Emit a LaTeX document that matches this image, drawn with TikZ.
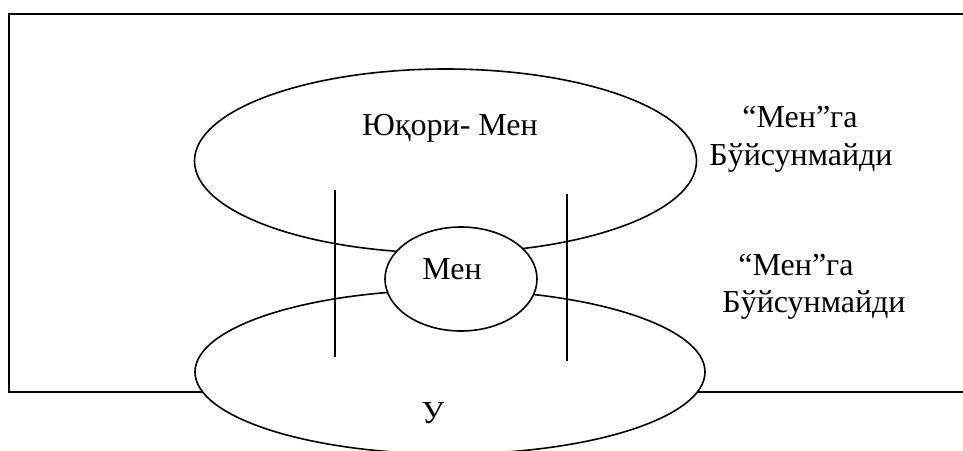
\documentclass[tikz,border=0pt]{standalone}
\usepackage{fontspec}
\setmainfont{Liberation Serif}
\usetikzlibrary{shapes.geometric}
\begin{document}
\begin{tikzpicture}[x=1pt,y=-1pt,
  shape line/.style={line width=1.6pt},
  oval/.style={ellipse,draw,shape line,fill=white,inner sep=0pt},
  lbl/.style={anchor=base,inner sep=0pt,font=\fontsize{32}{38}\selectfont},
  frameline/.style={line width=2.4pt,draw=black}]
\useasboundingbox (0,0) rectangle (963,450);
\draw[frameline] (975,14) -- (9,14) -- (9,392) -- (975,392);
\node[oval,minimum width=502pt,minimum height=184pt] (upper) at (445.5,161) {};
\node[oval,minimum width=510pt,minimum height=164pt] (lower) at (450,372) {};
\node[oval,minimum width=152pt,minimum height=104pt] (men) at (461,279) {};
\coordinate (l1t) at (335,190); \coordinate (l1b) at (335,357);
\coordinate (l2t) at (567,194); \coordinate (l2b) at (567,361);
\draw[shape line] (l1t) -- (l1b);
\draw[shape line] (l2t) -- (l2b);
\node[lbl] (tupper) at (450,135) {Юқори- Мен};
\node[lbl] (tmen) at (452,279) {Мен};
\node[lbl] (tlower) at (433,423) {У};
\node[lbl] (r1a) at (800,127) {“Мен”га};
\node[lbl] (r1b) at (801,165) {Бўйсунмайди};
\node[lbl] (r2a) at (796,275) {“Мен”га};
\node[lbl] (r2b) at (814,312) {Бўйсунмайди};
\end{tikzpicture}
\end{document}
